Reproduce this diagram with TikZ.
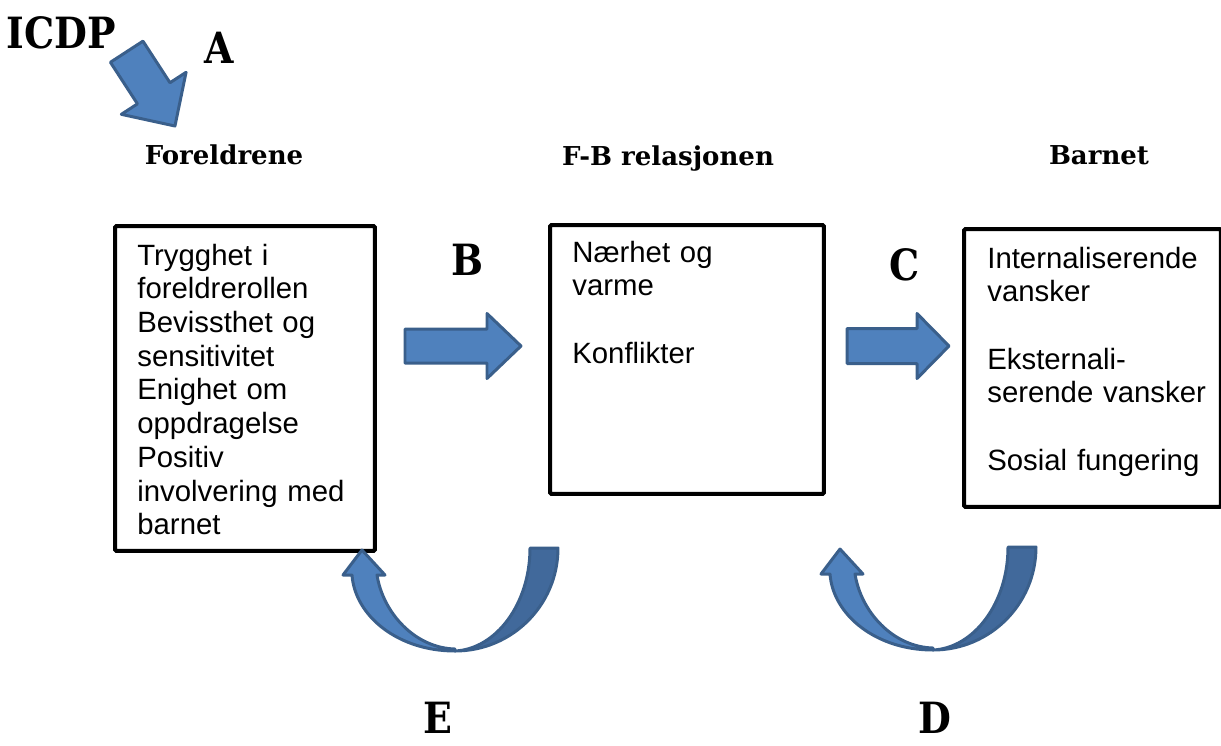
\documentclass[tikz,border=0pt]{standalone}
\usepackage{fontspec}
\setmainfont{Liberation Sans}
\newfontfamily\headfont{DejaVu Serif}
\newfontfamily\letterfont[FakeStretch=0.88]{DejaVu Serif}

\definecolor{arrowblue}{HTML}{4F81BD}
\definecolor{arrowdark}{HTML}{41699B}
\definecolor{arrowline}{HTML}{3A5F8B}

\begin{document}
\begin{tikzpicture}[x=0.02cm,y=-0.02cm,
    box/.style={draw,line width=2.3pt,rounded corners=0.8pt,anchor=north west,inner sep=0pt},
    boxtext/.style={anchor=base west,inner sep=0pt,text width=4.9cm,align=left,
        font=\fontsize{16.7}{19.2}\selectfont},
    heading/.style={anchor=base,inner sep=0pt,font=\headfont\bfseries\fontsize{14.8}{17}\selectfont},
    letter/.style={anchor=base,inner sep=0pt,font=\letterfont\bfseries\fontsize{24.5}{28}\selectfont},
    arrowshape/.style={fill=arrowblue,draw=arrowline,line width=1.7pt,line join=round},
    pics/blockarrow/.style n args={4}{code={
        \draw[arrowshape] (0,-#3) -- (#1-#2,-#3) -- (#1-#2,-#4) -- (#1,0)
            -- (#1-#2,#4) -- (#1-#2,#3) -- (0,#3) -- cycle;}},
    pics/turnarrow/.style={code={
        % back half, darker
        \draw[arrowshape,fill=arrowdark] (75,-103) -- (103,-103)
            .. controls (103,-46) and (57,0) .. (0,0)
            .. controls (41,-2) and (75,-47) .. (75,-103) -- cycle;
        % front half with the head
        \draw[arrowshape] (0,0) .. controls (-57,0) and (-100,-35) .. (-103,-76)
            -- (-112,-76) -- (-93,-101) -- (-70,-76) -- (-78,-76)
            .. controls (-72,-38) and (-40,-3) .. (0,-2) -- cycle;}}
]
    \useasboundingbox (0,0) rectangle (1221,745);

    % boxes
    \node[box,minimum width=5.2cm,minimum height=6.5cm] (foreldre) at (113,224) {};
    \node[box,minimum width=5.48cm,minimum height=5.38cm] (relasjon) at (548,223) {};
    \node[box,minimum width=5.14cm,minimum height=5.56cm] (barnet) at (962,227) {};

    \node[boxtext] (foreldretekst) at ([shift={(24,41)}]foreldre.north west)
        {Trygghet i\\ foreldrerollen\\ Bevissthet og\\ sensitivitet\\ Enighet om\\
         oppdragelse\\ Positiv\\ involvering med\\ barnet};
    \node[boxtext] (relasjontekst) at ([shift={(24,39)}]relasjon.north west)
        {Nærhet og\\ varme\\[19.2pt] Konflikter};
    \node[boxtext] (barnettekst) at ([shift={(25,41)}]barnet.north west)
        {Internaliserende\\ vansker\\[19.2pt] Eksternali-\\ serende vansker\\[19.2pt]
         Sosial fungering};

    % headings
    \node[heading] (hforeldre) at (224,164) {Foreldrene};
    \node[heading] (hrelasjon) at (668,165) {F-B relasjonen};
    \node[heading] (hbarnet) at (1099,164) {Barnet};

    % letters
    \node[letter] (icdp) at (61,48) {ICDP};
    \node[letter] (la) at (219,63) {A};
    \node[letter] (lb) at (468,275) {B};
    \node[letter] (lc) at (905,280) {C};
    \node[letter] (le) at (438,733) {E};
    \node[letter] (ld) at (935,733) {D};

    % arrows
    \pic[rotate=-57] at (126.7,51.7) {blockarrow={88.6}{39}{19.4}{38.6}};
    \pic at (405,346) {blockarrow={116}{34}{17}{32.5}};
    \pic at (847,346) {blockarrow={102}{32}{17.5}{32.5}};
    \pic at (455,651) {turnarrow};
    \pic at (933,650) {turnarrow};
\end{tikzpicture}
\end{document}
